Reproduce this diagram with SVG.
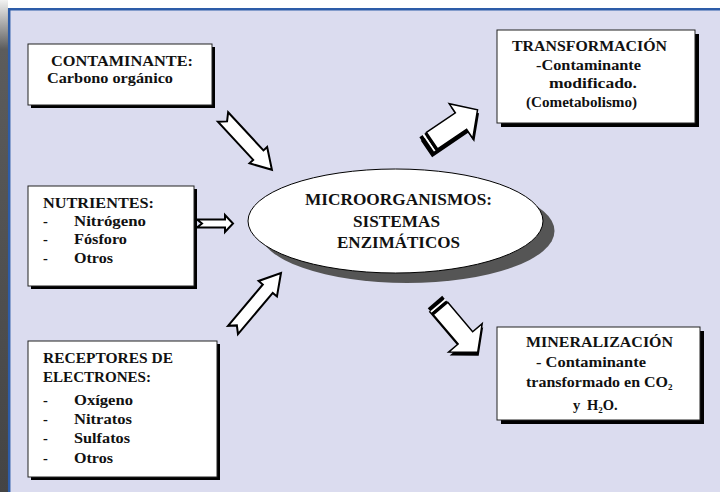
<svg xmlns="http://www.w3.org/2000/svg" width="720" height="492" viewBox="0 0 720 492">
<defs>
<linearGradient id="strip" x1="0" y1="0" x2="0" y2="1">
<stop offset="0" stop-color="#f2f2f2"/>
<stop offset="0.1" stop-color="#5c5c5c"/>
<stop offset="1" stop-color="#444"/>
</linearGradient>
<style>
.t{font-family:"Liberation Serif","Times New Roman",serif;font-weight:bold;font-size:14.5px;fill:#111;}
.e{font-size:16px;}
.box{fill:#fff;stroke:#222;stroke-width:1;}
.sh{fill:#000;}
.arr{fill:#fff;stroke:#000;stroke-width:2;stroke-linejoin:miter;}
.arr2{fill:#fff;stroke:#000;stroke-width:1.5;}
</style>
</defs>
<rect x="0" y="0" width="720" height="492" fill="#fff"/>
<rect x="9" y="9" width="711" height="483" fill="#dbdcef"/>
<rect x="0" y="0" width="8" height="492" fill="url(#strip)"/>
<line x1="8" y1="9.2" x2="720" y2="9.2" stroke="#2d5ca8" stroke-width="2.5"/>
<line x1="9.2" y1="8" x2="9.2" y2="492" stroke="#2d5ca8" stroke-width="2.5"/>

<g id="connectors">
<polygon class="arr" transform="translate(223,117) rotate(47.2)" points="0,-7 52,-7 52,-12 72,0 52,12 52,7 0,7 6,0"/>
<polygon class="arr" points="197,219.5 225,219.5 225,215 233,223.5 225,232 225,227.5 197,227.5 202,223.5"/>
<polygon class="arr" transform="translate(233,330) rotate(-49.9)" points="0,-6.5 54,-6.5 54,-12 74.5,0 54,12 54,6.5 0,6.5 6,0"/>
<g id="arrow-transf">
<polygon class="sh" transform="translate(426.5,149) rotate(-34.2)" points="0,-10 43.5,-10 43.5,-21 63.5,0 43.5,21 43.5,10 0,10"/>
<g transform="translate(425,145.5) rotate(-34.2)">
<rect x="0" y="-10" width="4" height="20" fill="#000"/>
<rect x="4" y="-10" width="2" height="20" fill="#fff"/>
<rect x="6" y="-10" width="2.5" height="20" fill="#000"/>
<polygon class="arr2" points="8.5,-10 43.5,-10 43.5,-21 63.5,0 43.5,21 43.5,10 8.5,10"/>
</g>
</g>
<g id="arrow-miner">
<polygon class="sh" transform="translate(436,305.5) rotate(49.7)" points="0,-9.5 47,-9.5 47,-22 66,0 47,22 47,9.5 0,9.5"/>
<g transform="translate(435,302) rotate(49.7)">
<rect x="0" y="-9.5" width="4" height="19" fill="#000"/>
<rect x="4" y="-9.5" width="2" height="19" fill="#fff"/>
<rect x="6" y="-9.5" width="2.5" height="19" fill="#000"/>
<polygon class="arr2" points="8.5,-9.5 47,-9.5 47,-22 66,0 47,22 47,9.5 8.5,9.5"/>
</g>
</g>
</g>

<g id="contaminante">
<rect class="sh" x="31" y="47" width="184" height="61"/>
<rect class="box" x="28" y="44" width="184" height="61"/>
<text class="t" x="51" y="66" textLength="142" lengthAdjust="spacingAndGlyphs">CONTAMINANTE:</text>
<text class="t" x="47" y="83" textLength="126" lengthAdjust="spacingAndGlyphs">Carbono orgánico</text>
</g>

<g id="nutrientes">
<rect class="sh" x="31" y="189" width="166" height="100"/>
<rect class="box" x="28" y="186" width="166" height="100"/>
<text class="t" x="43" y="208" textLength="111" lengthAdjust="spacingAndGlyphs">NUTRIENTES:</text>
<text class="t" x="43" y="226">-</text>
<text class="t" x="74" y="226" textLength="72" lengthAdjust="spacingAndGlyphs">Nitrógeno</text>
<text class="t" x="43" y="244">-</text>
<text class="t" x="74" y="244" textLength="53" lengthAdjust="spacingAndGlyphs">Fósforo</text>
<text class="t" x="43" y="263">-</text>
<text class="t" x="74" y="263" textLength="39" lengthAdjust="spacingAndGlyphs">Otros</text>
</g>

<g id="receptores">
<rect class="sh" x="31" y="344" width="189" height="136"/>
<rect class="box" x="28" y="341" width="189" height="136"/>
<text class="t" x="43" y="363" textLength="130" lengthAdjust="spacingAndGlyphs">RECEPTORES DE</text>
<text class="t" x="43" y="382" textLength="108" lengthAdjust="spacingAndGlyphs">ELECTRONES:</text>
<text class="t" x="43" y="405">-</text>
<text class="t" x="74" y="405" textLength="59" lengthAdjust="spacingAndGlyphs">Oxígeno</text>
<text class="t" x="43" y="424">-</text>
<text class="t" x="74" y="424" textLength="58" lengthAdjust="spacingAndGlyphs">Nitratos</text>
<text class="t" x="43" y="443">-</text>
<text class="t" x="74" y="443" textLength="56" lengthAdjust="spacingAndGlyphs">Sulfatos</text>
<text class="t" x="43" y="463">-</text>
<text class="t" x="74" y="463" textLength="39" lengthAdjust="spacingAndGlyphs">Otros</text>
</g>

<g id="microorganismos">
<ellipse cx="407" cy="231" rx="147.5" ry="52" fill="#555"/>
<ellipse cx="395.5" cy="221" rx="147.5" ry="52" fill="#fff" stroke="#000" stroke-width="1"/>
<text class="t e" x="305" y="205" textLength="187" lengthAdjust="spacingAndGlyphs">MICROORGANISMOS:</text>
<text class="t e" x="353" y="227" textLength="87" lengthAdjust="spacingAndGlyphs">SISTEMAS</text>
<text class="t e" x="337" y="248" textLength="123" lengthAdjust="spacingAndGlyphs">ENZIMÁTICOS</text>
</g>

<g id="transformacion">
<rect class="sh" x="501" y="34" width="198" height="93"/>
<rect class="box" x="497" y="30" width="198" height="93"/>
<text class="t" x="512" y="51" textLength="155" lengthAdjust="spacingAndGlyphs">TRANSFORMACIÓN</text>
<text class="t" x="536" y="70" textLength="105" lengthAdjust="spacingAndGlyphs">-Contaminante</text>
<text class="t" x="549" y="88" textLength="88" lengthAdjust="spacingAndGlyphs">modificado.</text>
<text class="t" x="526" y="107" textLength="111" lengthAdjust="spacingAndGlyphs">(Cometabolismo)</text>
</g>

<g id="mineralizacion">
<rect class="sh" x="501" y="331" width="203" height="93"/>
<rect class="box" x="497" y="327" width="203" height="93"/>
<text class="t" x="526" y="347" textLength="147" lengthAdjust="spacingAndGlyphs">MINERALIZACIÓN</text>
<text class="t" x="536" y="367" textLength="110" lengthAdjust="spacingAndGlyphs">- Contaminante</text>
<text class="t" x="526" y="387"><tspan textLength="142" lengthAdjust="spacingAndGlyphs">transformado en CO</tspan><tspan font-size="9" dy="3">2</tspan></text>
<text class="t" x="573" y="410">y<tspan x="587">H</tspan><tspan font-size="9" dy="3">2</tspan><tspan dy="-3">O.</tspan></text>
</g>
</svg>
